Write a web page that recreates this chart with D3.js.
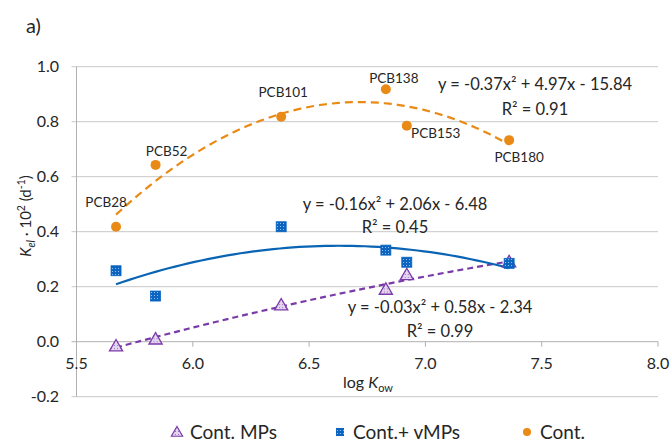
<!DOCTYPE html>
<html><head><meta charset="utf-8">
<script src="https://cdn.jsdelivr.net/npm/d3@7"></script>
<style>
body{margin:0;background:#fff}
text{font-family:Lato,"Open Sans",sans-serif;fill:#262626}
</style>
</head><body><svg id="c" width="672" height="441"></svg>
<script>
const congeners = ["PCB28","PCB52","PCB101","PCB138","PCB153","PCB180"];
const logKow = [5.67,5.84,6.38,6.83,6.92,7.36];
const contMPs = [-0.016,0.009,0.133,0.19,0.243,0.29];
const contVMPs = [0.258,0.166,0.418,0.333,0.289,0.285];
const cont = [0.418,0.643,0.818,0.918,0.785,0.733];
const xTicks = [5.5,6.0,6.5,7.0,7.5,8.0];
const yTicks = [-0.2,0,0.2,0.4,0.6,0.8,1.0];
const seriesNames = ["Cont. MPs","Cont.+ vMPs","Cont."];
const equations = ["y = -0.03x² + 0.58x - 2.34","y = -0.16x² + 2.06x - 6.48","y = -0.37x² + 4.97x - 15.84"];
const r2Labels = ["R² = 0.99","R² = 0.45","R² = 0.91"];

const svg = d3.select("#c");
const x = d3.scaleLinear().domain([5.5,8]).range([76.5,658]);
const y = d3.scaleLinear().domain([-0.2,1.0]).range([396.7,66.7]);
const fmt = d=>d3.format(".1f")(d).replace("\u2212","-");

const defs = svg.append("defs");
const pb = defs.append("pattern").attr("id","pb").attr("width",3).attr("height",3).attr("patternUnits","userSpaceOnUse");
pb.append("rect").attr("width",3).attr("height",3).attr("fill","#0a64c0");
pb.append("rect").attr("x",1).attr("y",1).attr("width",1).attr("height",1).attr("fill","#8fc0ef");
const pp = defs.append("pattern").attr("id","pp").attr("width",3).attr("height",3).attr("patternUnits","userSpaceOnUse");
pp.append("rect").attr("width",3).attr("height",3).attr("fill","#e4d6f0");
pp.append("rect").attr("x",1).attr("y",1).attr("width",1).attr("height",1).attr("fill","#9b6cc2");

// gridlines
svg.append("g").selectAll("line").data(yTicks).join("line")
  .attr("x1",x(5.5)-5).attr("x2",x(8)).attr("y1",d=>y(d)).attr("y2",d=>y(d))
  .attr("stroke",d=>d===0?"#b0b0b0":"#c8c8c8").attr("stroke-width",1);
// y axis line
svg.append("line").attr("x1",x(5.5)).attr("x2",x(5.5)).attr("y1",y(1.0)).attr("y2",y(-0.2)).attr("stroke","#b0b0b0");
// x ticks on zero line
svg.append("g").selectAll("line").data(xTicks).join("line")
  .attr("x1",d=>x(d)).attr("x2",d=>x(d)).attr("y1",y(0)).attr("y2",y(0)+5).attr("stroke","#b0b0b0");
// tick labels
svg.append("g").selectAll("text").data(yTicks).join("text")
  .attr("x",59).attr("y",d=>y(d)+5.5).attr("text-anchor","end").attr("font-size",16)
  .text(fmt);
svg.append("g").selectAll("text").data(xTicks).join("text")
  .attr("x",d=>x(d)).attr("y",y(0)+27).attr("text-anchor","middle").attr("font-size",16)
  .text(fmt);

// axis titles
const xt = svg.append("text").attr("x",368).attr("y",388).attr("text-anchor","middle").attr("font-size",16);
xt.append("tspan").text("log ");
xt.append("tspan").attr("font-style","italic").text("K");
xt.append("tspan").attr("font-size",11).attr("dy",4).text("ow");
const yt = svg.append("text").attr("transform","translate(31,216) rotate(-90)").attr("text-anchor","middle").attr("font-size",15);
yt.append("tspan").attr("font-style","italic").text("K");
yt.append("tspan").attr("font-style","italic").attr("font-size",10.5).attr("dy",4).text("el");
yt.append("tspan").attr("dy",-4).text(" · 10");
yt.append("tspan").attr("font-size",10.5).attr("dy",-6).text("2");
yt.append("tspan").attr("dy",6).text(" (d");
yt.append("tspan").attr("font-size",10.5).attr("dy",-6).text("-1");
yt.append("tspan").attr("dy",6).text(")");

svg.append("text").attr("x",26).attr("y",33).attr("font-size",20).text("a)");

// quadratic least-squares fit
function fit2(xs, ys){
  let S=[0,0,0,0,0], T=[0,0,0];
  xs.forEach((xi,i)=>{ for(let k=0;k<5;k++) S[k]+=Math.pow(xi,k); for(let k=0;k<3;k++) T[k]+=ys[i]*Math.pow(xi,k); });
  const A=[[S[0],S[1],S[2],T[0]],[S[1],S[2],S[3],T[1]],[S[2],S[3],S[4],T[2]]];
  for(let i=0;i<3;i++){ let p=i; for(let r=i+1;r<3;r++) if(Math.abs(A[r][i])>Math.abs(A[p][i])) p=r; [A[i],A[p]]=[A[p],A[i]];
    for(let r=0;r<3;r++){ if(r===i) continue; const f=A[r][i]/A[i][i]; for(let c=i;c<4;c++) A[r][c]-=f*A[i][c]; } }
  const c=[A[0][3]/A[0][0],A[1][3]/A[1][1],A[2][3]/A[2][2]];
  return xv=>c[0]+c[1]*xv+c[2]*xv*xv;
}
const colors = ["#7a3aa8","#0a64b4","#ea8a16"];
const allSeries = [contMPs, contVMPs, cont];
const dashes = ["6,4",null,"8,5"];
const line = d3.line().x(d=>x(d[0])).y(d=>y(d[1]));
allSeries.forEach((vals,si)=>{
  const f = fit2(logKow, vals);
  const xs = d3.range(0,61).map(i=>d3.min(logKow)+(d3.max(logKow)-d3.min(logKow))*i/60);
  svg.append("path").attr("d",line(xs.map(v=>[v,f(v)]))).attr("fill","none")
    .attr("stroke",colors[si]).attr("stroke-width",2.2).attr("stroke-dasharray",dashes[si]);
});

// markers
const tri = d3.symbol().type(d3.symbolTriangle).size(75);
svg.append("g").selectAll("path").data(logKow).join("path")
  .attr("d",tri).attr("transform",(d,i)=>`translate(${x(d)},${y(contMPs[i])+1})`)
  .attr("fill","url(#pp)").attr("stroke","#7a3aa8").attr("stroke-width",1.3);
svg.append("g").selectAll("rect").data(logKow).join("rect")
  .attr("x",d=>x(d)-5).attr("y",(d,i)=>y(contVMPs[i])-5).attr("width",10).attr("height",10)
  .attr("fill","url(#pb)").attr("stroke","#0a64c0").attr("stroke-width",0.8);
svg.append("g").selectAll("circle").data(logKow).join("circle")
  .attr("cx",d=>x(d)).attr("cy",(d,i)=>y(cont[i])).attr("r",5).attr("fill","#ea8a16");

// point labels
const labelOffsets = [[-10,-20],[11,-9],[2,-20],[8,-6],[29,12],[10,22]];
svg.append("g").selectAll("text").data(congeners).join("text")
  .attr("x",(d,i)=>x(logKow[i])+labelOffsets[i][0]).attr("y",(d,i)=>y(cont[i])+labelOffsets[i][1])
  .attr("text-anchor","middle").attr("font-size",13.5).text(d=>d);

// equations
const eqPos = [[440,313,440,337],[395,210,395,233],[535,90,535,115]];
equations.forEach((e,i)=>{
  svg.append("text").attr("x",eqPos[i][0]).attr("y",eqPos[i][1]).attr("text-anchor","middle").attr("font-size",16.5).text(e);
  svg.append("text").attr("x",eqPos[i][2]).attr("y",eqPos[i][3]).attr("text-anchor","middle").attr("font-size",16.5).text(r2Labels[i]);
});

// legend
const legX = [177,340,527];
const lg = svg.append("g");
seriesNames.forEach((n,i)=>{
  const cx = legX[i], cy = 432;
  if(i===0) lg.append("path").attr("d",d3.symbol().type(d3.symbolTriangle).size(55)).attr("transform",`translate(${cx},${cy+1})`).attr("fill","url(#pp)").attr("stroke","#7a3aa8").attr("stroke-width",1.2);
  if(i===1) lg.append("rect").attr("x",cx-4).attr("y",cy-4).attr("width",8).attr("height",8).attr("fill","url(#pb)");
  if(i===2) lg.append("circle").attr("cx",cx).attr("cy",cy).attr("r",4).attr("fill","#ea8a16");
  lg.append("text").attr("x",cx+13).attr("y",cy+6.5).attr("font-size",19).text(n);
});
</script></body></html>
